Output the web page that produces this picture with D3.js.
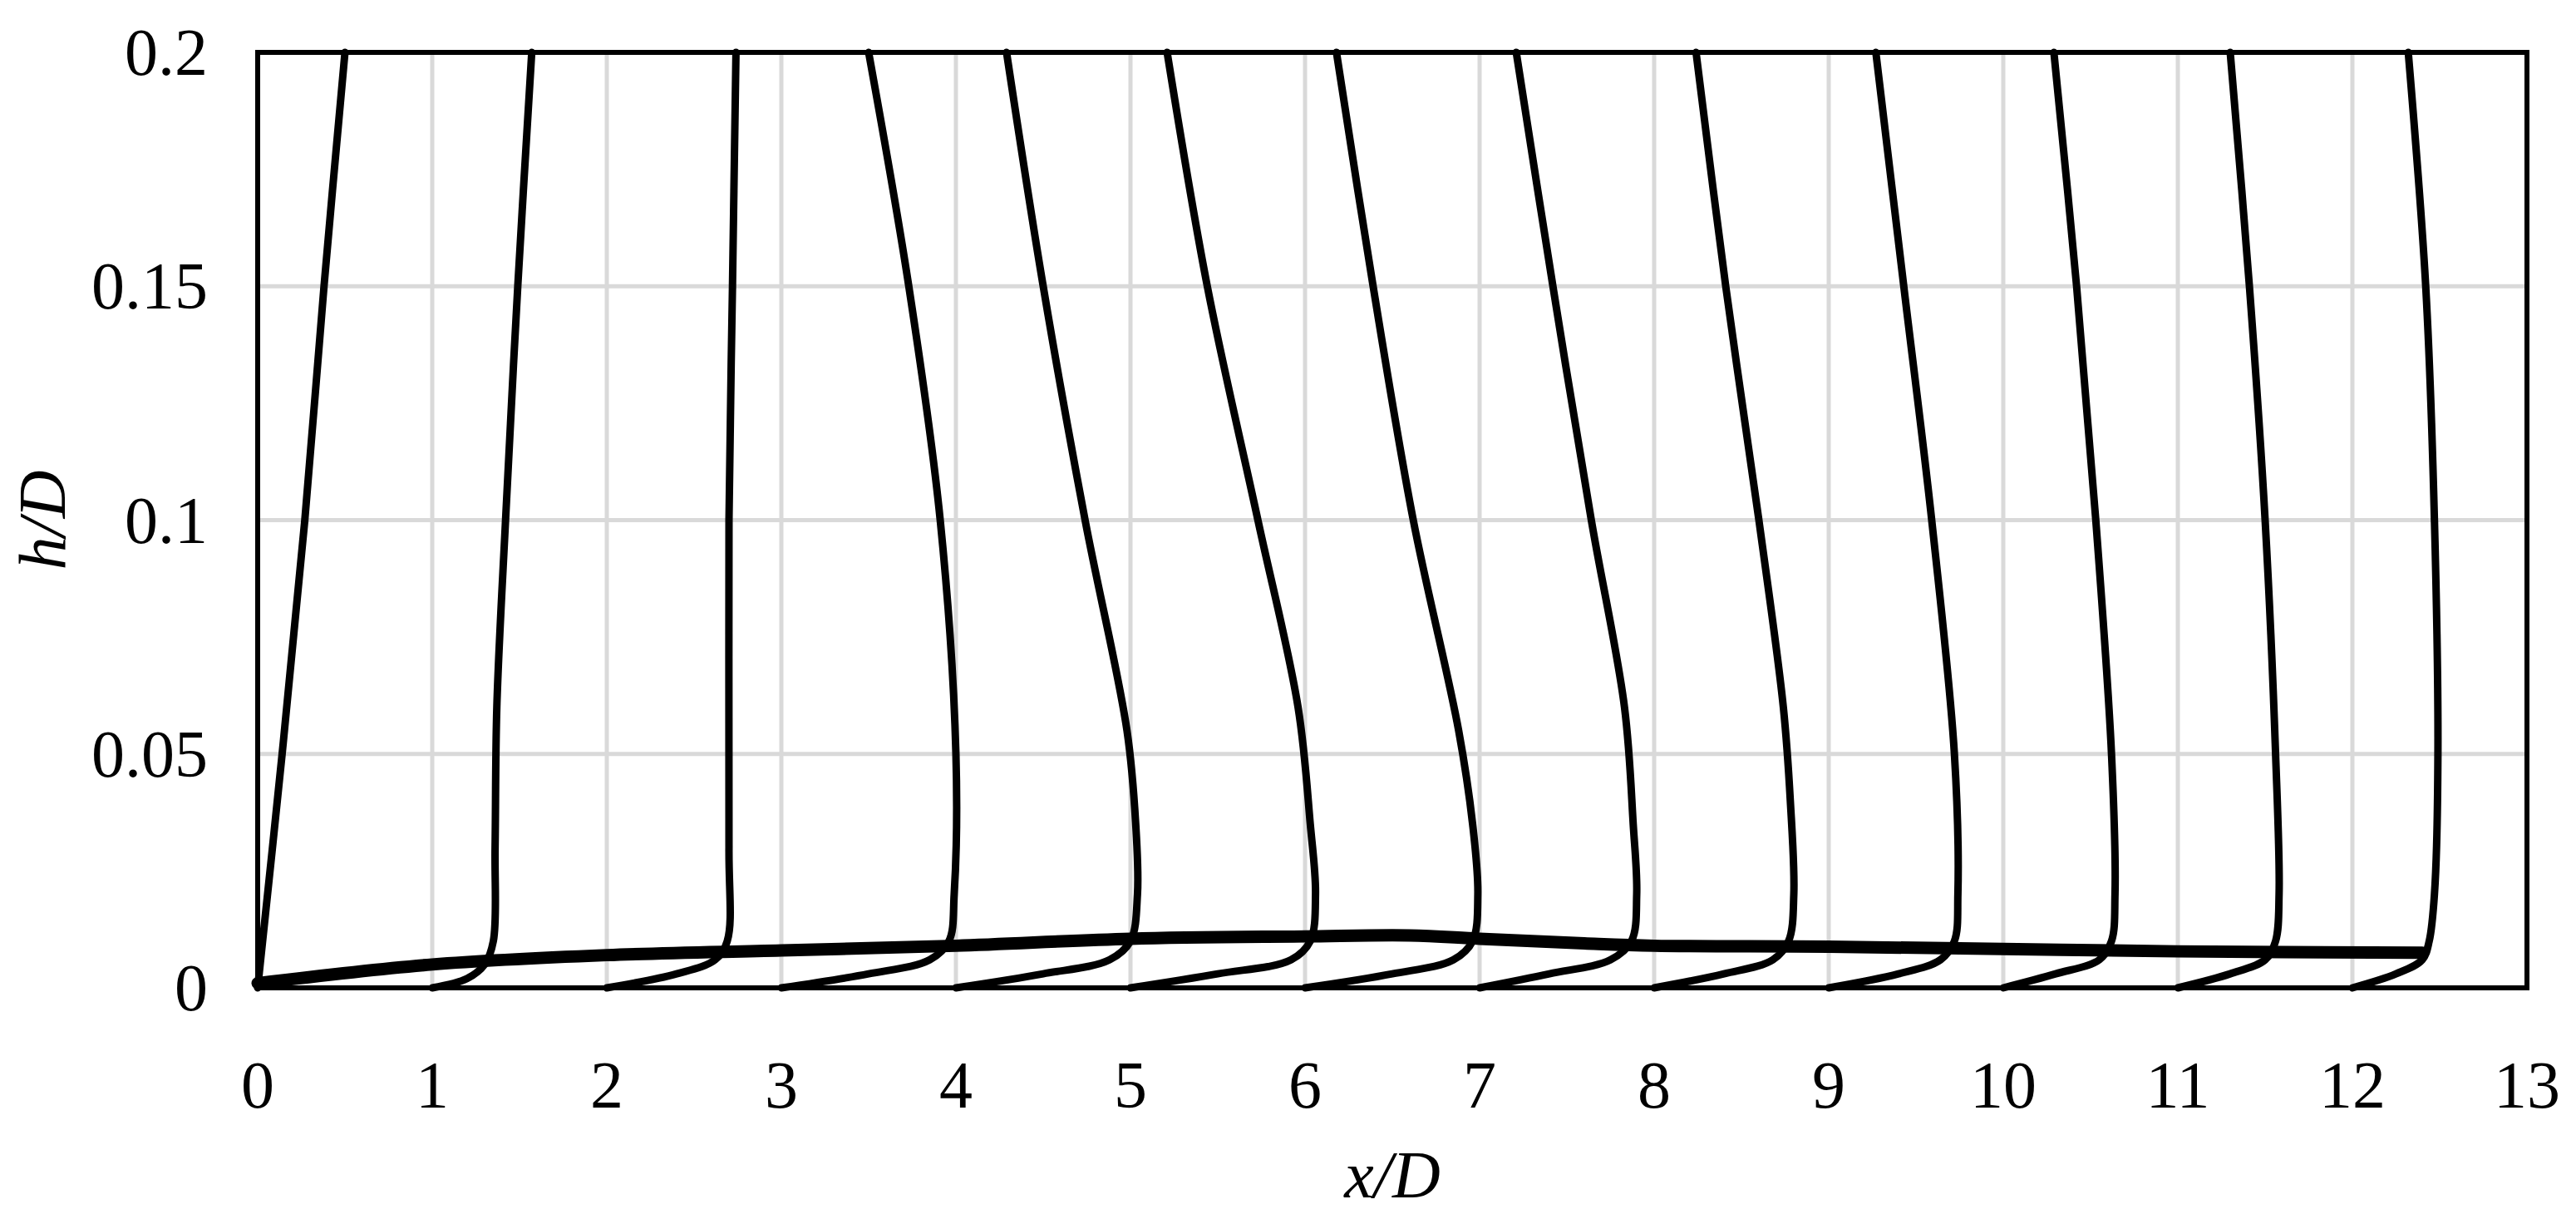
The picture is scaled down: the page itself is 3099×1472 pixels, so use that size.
<!DOCTYPE html>
<html>
<head>
<meta charset="utf-8">
<script src="https://cdn.jsdelivr.net/npm/d3@7"></script>
<style>
  html, body { margin: 0; padding: 0; background: #fff; }
  text { font-family: "Liberation Serif", "DejaVu Serif", serif; fill: #000; }
</style>
</head>
<body>
<svg id="chart" width="3099" height="1472"></svg>
<script>
// tick labels
var xTicks = [0, 1, 2, 3, 4, 5, 6, 7, 8, 9, 10, 11, 12, 13];
var yTicks = [0, 0.05, 0.1, 0.15, 0.2];

// velocity profiles, one per station, [x/D, h/D]
var profile0 = [[0, 0], [0.14, 0.05], [0.27, 0.1], [0.38, 0.15], [0.5, 0.2]];
var profile1 = [[1, 0], [1.2, 0.002], [1.3, 0.005], [1.35, 0.01], [1.36, 0.03], [1.37, 0.06], [1.42, 0.1], [1.49, 0.15], [1.57, 0.2]];
var profile2 = [[2, 0], [2.4, 0.003], [2.62, 0.006], [2.69, 0.01], [2.7, 0.03], [2.7, 0.1], [2.72, 0.15], [2.74, 0.2]];
var profile3 = [[3, 0], [3.5, 0.003], [3.85, 0.006], [3.96, 0.01], [3.99, 0.02], [4.0, 0.05], [3.91, 0.1], [3.73, 0.15], [3.5, 0.2]];
var profile4 = [[4, 0], [4.5, 0.003], [4.88, 0.006], [5.0, 0.01], [5.04, 0.02], [5.03, 0.035], [4.98, 0.055], [4.74, 0.1], [4.5, 0.15], [4.29, 0.2]];
var profile5 = [[5, 0], [5.5, 0.003], [5.92, 0.006], [6.03, 0.01], [6.06, 0.02], [6.03, 0.035], [5.96, 0.06], [5.73, 0.1], [5.44, 0.15], [5.21, 0.2]];
var profile6 = [[6, 0], [6.5, 0.003], [6.85, 0.006], [6.96, 0.01], [6.99, 0.02], [6.96, 0.035], [6.88, 0.055], [6.62, 0.1], [6.39, 0.15], [6.18, 0.2]];
var profile7 = [[7, 0], [7.4, 0.003], [7.75, 0.006], [7.87, 0.01], [7.9, 0.02], [7.88, 0.035], [7.83, 0.06], [7.64, 0.1], [7.42, 0.15], [7.21, 0.2]];
var profile8 = [[8, 0], [8.4, 0.003], [8.68, 0.006], [8.77, 0.01], [8.8, 0.02], [8.78, 0.04], [8.74, 0.06], [8.6, 0.1], [8.41, 0.15], [8.24, 0.2]];
var profile9 = [[9, 0], [9.4, 0.003], [9.64, 0.006], [9.72, 0.01], [9.74, 0.02], [9.72, 0.05], [9.59, 0.1], [9.43, 0.15], [9.27, 0.2]];
var profile10 = [[10, 0], [10.3, 0.003], [10.55, 0.006], [10.62, 0.01], [10.64, 0.02], [10.62, 0.05], [10.53, 0.1], [10.42, 0.15], [10.29, 0.2]];
var profile11 = [[11, 0], [11.3, 0.003], [11.5, 0.006], [11.56, 0.01], [11.58, 0.02], [11.56, 0.05], [11.5, 0.1], [11.41, 0.15], [11.3, 0.2]];
var profile12 = [[12, 0], [12.25, 0.003], [12.4, 0.006], [12.44, 0.01], [12.47, 0.02], [12.49, 0.05], [12.47, 0.1], [12.42, 0.15], [12.32, 0.2]];
var profiles = [profile0, profile1, profile2, profile3, profile4, profile5, profile6,
  profile7, profile8, profile9, profile10, profile11, profile12];

// boundary layer edge
var edge = [[0, 0.001], [1, 0.005], [2, 0.007], [3, 0.008], [4, 0.009], [5, 0.0105], [6, 0.011],
  [6.6, 0.0112], [7, 0.0105], [7.6, 0.0095], [8, 0.009], [9, 0.0088], [10, 0.0083], [11, 0.0078], [12.4, 0.0075]];

var margin = { left: 310, right: 3040, top: 63, bottom: 1188 };
var svg = d3.select("#chart");

var x = d3.scaleLinear().domain([0, 13]).range([margin.left, margin.right]);
var y = d3.scaleLinear().domain([0, 0.2]).range([margin.bottom, margin.top]);

// grid
svg.append("g").selectAll("line").data(xTicks).enter().append("line")
  .attr("x1", function (d) { return x(d); }).attr("x2", function (d) { return x(d); })
  .attr("y1", y(0)).attr("y2", y(0.2))
  .attr("stroke", "#d9d9d9").attr("stroke-width", 5);
svg.append("g").selectAll("line").data(yTicks).enter().append("line")
  .attr("y1", function (d) { return y(d); }).attr("y2", function (d) { return y(d); })
  .attr("x1", x(0)).attr("x2", x(13))
  .attr("stroke", "#d9d9d9").attr("stroke-width", 5);

var line = d3.line()
  .x(function (d) { return x(d[0]); })
  .y(function (d) { return y(d[1]); })
  .curve(d3.curveCatmullRom.alpha(0.5));

var plot = svg.append("g");
plot.selectAll("path.profile").data(profiles).enter().append("path")
  .attr("class", "profile")
  .attr("d", line)
  .attr("fill", "none").attr("stroke", "#000").attr("stroke-width", 9)
  .attr("stroke-linecap", "round").attr("stroke-linejoin", "round");

plot.append("path").datum(edge)
  .attr("d", line)
  .attr("fill", "none").attr("stroke", "#000").attr("stroke-width", 15)
  .attr("stroke-linecap", "round");

// frame
svg.append("rect")
  .attr("x", x(0)).attr("y", y(0.2))
  .attr("width", x(13) - x(0)).attr("height", y(0) - y(0.2))
  .attr("fill", "none").attr("stroke", "#000").attr("stroke-width", 6);

// tick labels
svg.append("g").selectAll("text").data(xTicks).enter().append("text")
  .attr("x", function (d) { return x(d); }).attr("y", 1332)
  .attr("text-anchor", "middle").attr("font-size", 80)
  .text(function (d) { return d; });
svg.append("g").selectAll("text").data(yTicks).enter().append("text")
  .attr("x", 250).attr("y", function (d) { return y(d) + 27; })
  .attr("text-anchor", "end").attr("font-size", 80)
  .text(function (d) { return d; });

// axis titles
svg.append("text")
  .attr("x", (margin.left + margin.right) / 2).attr("y", 1440)
  .attr("text-anchor", "middle").attr("font-size", 80).attr("font-style", "italic")
  .text("x/D");
svg.append("text")
  .attr("transform", "translate(78," + (margin.top + margin.bottom) / 2 + ") rotate(-90)")
  .attr("text-anchor", "middle").attr("font-size", 80).attr("font-style", "italic")
  .text("h/D");
</script>
</body>
</html>
